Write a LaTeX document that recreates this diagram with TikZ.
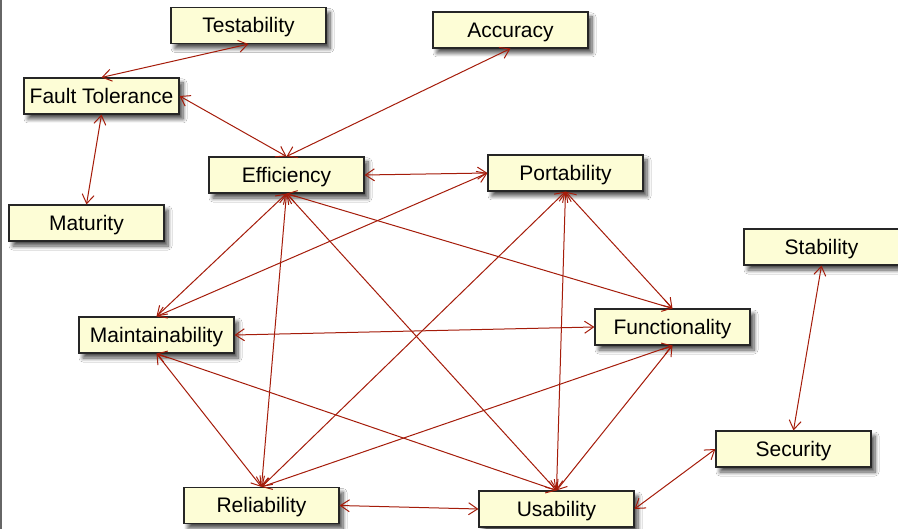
\documentclass[tikz,border=0pt]{standalone}
\usepackage{fontspec}
\setmainfont{Liberation Sans}
\usetikzlibrary{arrows.meta,shadows.blur}
\definecolor{boxfill}{RGB}{253,253,214}
\definecolor{edgered}{RGB}{165,28,10}
\tikzset{
  qbox/.style={draw=black!85, line width=1.1pt, fill=boxfill, rectangle,
    minimum width=155pt, minimum height=36pt, inner sep=0pt,
    text height=15pt, text depth=0pt,
    font=\fontsize{21}{25}\selectfont,
    blur shadow={shadow xshift=4pt, shadow yshift=-5pt, shadow blur steps=8,
      shadow blur radius=4pt, shadow opacity=70}},
  link/.style={draw=edgered, line width=1pt,
    {Straight Barb[length=9pt,width=12pt]}-{Straight Barb[length=9pt,width=12pt]}}
}
\begin{document}
\begin{tikzpicture}[x=1pt,y=-1pt]
\useasboundingbox (0,0) rectangle (898,529);
\fill[white] (0,0) rectangle (898,529);
\draw[black!60, line width=1.5pt] (1,0) -- (1,529);

\node[qbox] (test) at (248.5,25.5) {Testability};
\node[qbox] (acc)  at (510.5,30) {Accuracy};
\node[qbox] (ft)   at (101.5,96) {Fault Tolerance};
\node[qbox] (eff)  at (286.5,175) {Efficiency};
\node[qbox] (mat)  at (86.5,223) {Maturity};
\node[qbox] (port) at (565.5,173) {Portability};
\node[qbox] (stab) at (821.5,247) {Stability};
\node[qbox] (func) at (672.5,327) {Functionality};
\node[qbox] (main) at (156.5,335) {Maintainability};
\node[qbox] (sec)  at (793.5,449) {Security};
\node[qbox] (rel)  at (261.5,505.5) {Reliability};
\node[qbox] (usa)  at (556.5,509) {Usability};

\draw[link] (test.south) -- (ft.north);
\draw[link] (ft.south) -- (mat.north);
\draw[link] (ft.east) -- (eff.north);
\draw[link] (acc.south) -- (eff.north);
\draw[link] (eff.east) -- (port.west);
\draw[link] (eff.south) -- (main.north);
\draw[link] (eff.south) -- (rel.north);
\draw[link] (eff.south) -- (usa.north);
\draw[link] (eff.south) -- (func.north);
\draw[link] (port.west) -- (main.north);
\draw[link] (port.south) -- (rel.north);
\draw[link] (port.south) -- (usa.north);
\draw[link] (port.south) -- (func.north);
\draw[link] (main.east) -- (func.west);
\draw[link] (main.south) -- (rel.north);
\draw[link] (main.south) -- (usa.north);
\draw[link] (func.south) -- (rel.north);
\draw[link] (func.south) -- (usa.north);
\draw[link] (rel.east) -- (usa.west);
\draw[link] (usa.east) -- (sec.west);
\draw[link] (stab.south) -- (sec.north);
\end{tikzpicture}
\end{document}
